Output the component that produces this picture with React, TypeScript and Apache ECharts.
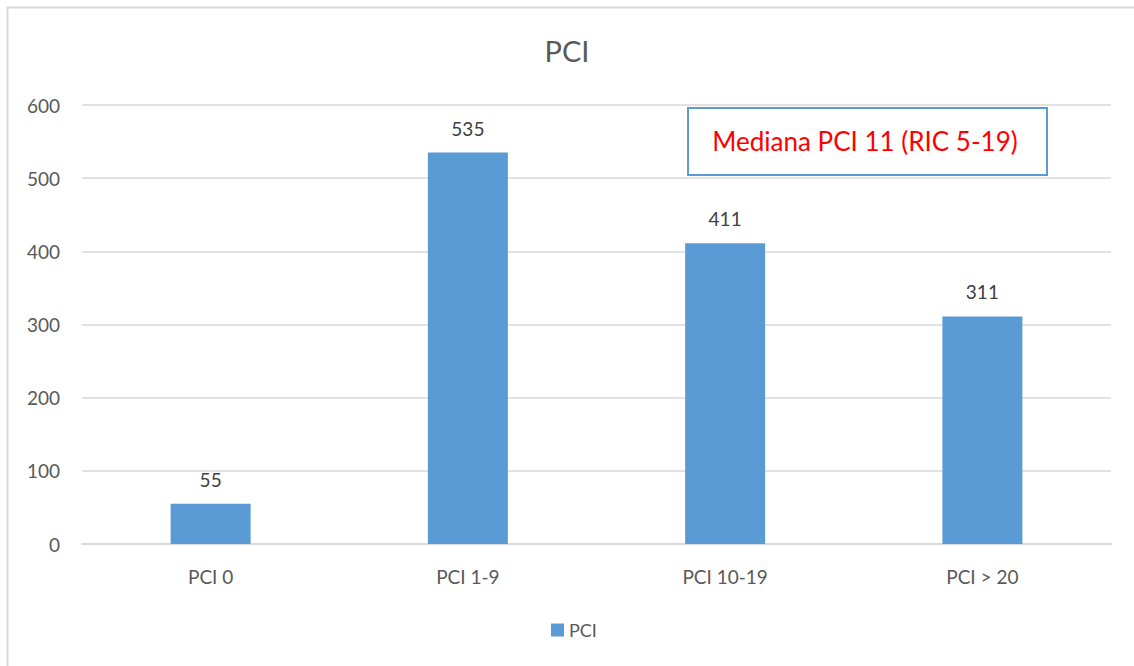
import React, { useEffect, useRef } from "react";
import * as echarts from "echarts";

const categories = ["PCI 0", "PCI 1-9", "PCI 10-19", "PCI > 20"];
const values = [55, 535, 411, 311];
const yTicks = [0, 100, 200, 300, 400, 500, 600];
const seriesName = "PCI";
const titleText = "PCI";
const noteText = "Mediana PCI 11 (RIC 5-19)";

const FONT = "Lato, 'Open Sans', sans-serif";

export default function App() {
  const ref = useRef<HTMLDivElement>(null);
  useEffect(() => {
    if (!ref.current) return;
    const chart = echarts.init(ref.current, undefined, { renderer: "svg" });
    chart.setOption({
      animation: false,
      backgroundColor: "#ffffff",
      title: {
        text: titleText,
        left: "center",
        top: 31,
        textStyle: { fontFamily: FONT, fontSize: 29, fontWeight: "normal", color: "#595959" },
      },
      legend: {
        bottom: 22,
        left: 546,
        itemWidth: 13,
        itemHeight: 13,
        itemGap: 8,
        icon: "rect",
        textStyle: { fontFamily: FONT, fontSize: 18, color: "#595959" },
        data: [seriesName],
      },
      grid: { left: 82, right: 23, top: 105, bottom: 122 },
      xAxis: {
        type: "category",
        data: categories,
        axisTick: { show: false },
        axisLine: { lineStyle: { color: "#d9d9d9", width: 2 } },
        axisLabel: { fontFamily: FONT, fontSize: 19, color: "#595959", margin: 23 },
      },
      yAxis: {
        type: "value",
        min: yTicks[0],
        max: yTicks[yTicks.length - 1],
        interval: 100,
        axisLine: { show: false },
        axisTick: { show: false },
        splitLine: { lineStyle: { color: "#d9d9d9", width: 1.5 } },
        axisLabel: { fontFamily: FONT, fontSize: 19, color: "#595959", margin: 22 },
      },
      series: [
        {
          name: seriesName,
          type: "bar",
          data: values,
          barWidth: 80,
          itemStyle: { color: "#5b9bd5" },
          label: {
            show: true,
            position: "top",
            distance: 15,
            fontFamily: FONT,
            fontSize: 19,
            color: "#404040",
          },
        },
      ],
      graphic: [
        {
          type: "rect",
          left: 5,
          top: 5,
          shape: { x: 0, y: 0, width: 1300, height: 800 },
          style: { fill: "none", stroke: "#d9d9d9", lineWidth: 2 },
          z: 10,
        },
        {
          type: "rect",
          shape: { x: 688, y: 108, width: 359, height: 67 },
          style: { fill: "#ffffff", stroke: "#5b9bd5", lineWidth: 2 },
          z: 20,
        },
        {
          type: "text",
          x: 865,
          y: 141,
          style: {
            text: noteText,
            fill: "#ff0000",
            fontFamily: FONT,
            fontSize: 26,
            align: "center",
            verticalAlign: "middle",
          },
          z: 21,
        },
      ],
    });
    return () => chart.dispose();
  }, []);
  return (
    <div
      ref={ref}
      style={{ position: "fixed", left: 0, top: 0, width: 1134, height: 666 }}
    />
  );
}
